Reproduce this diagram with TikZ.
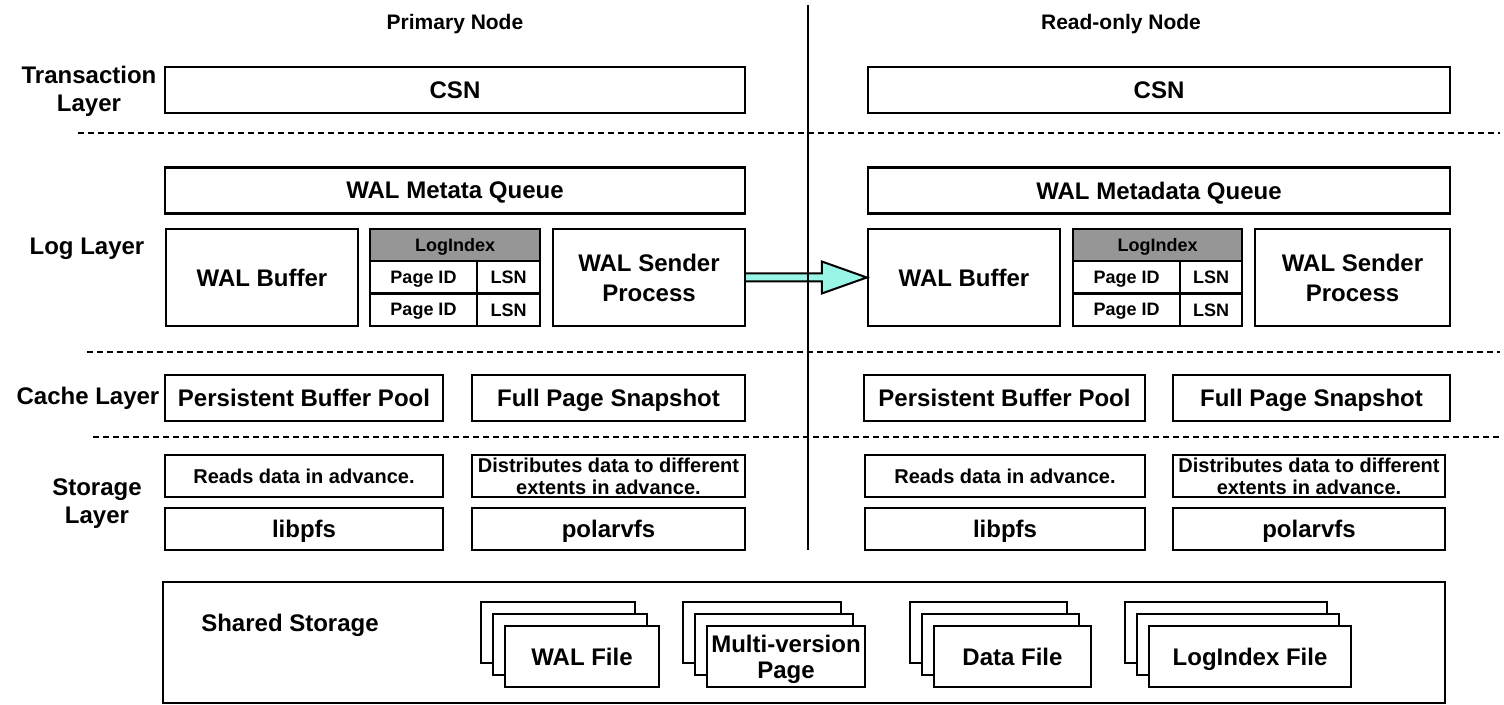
\documentclass[tikz,border=0pt]{standalone}
\usepackage{fontspec}
\setmainfont{Liberation Sans}
\usetikzlibrary{calc}
\definecolor{sendcyan}{RGB}{153,245,229}
\definecolor{idxgray}{RGB}{150,150,150}
\tikzset{
  box/.style 2 args={draw, line width=1.2pt, fill=white, inner sep=0pt,
    minimum width=#1*0.5pt, minimum height=#2*0.5pt, align=center, text depth=0pt,
    font=\fontsize{12}{15}\selectfont\bfseries},
  cellfont/.style={font=\fontsize{9}{10}\selectfont\bfseries},
  notefont/.style={font=\fontsize{10}{11}\selectfont\bfseries},
  layer/.style={align=center, text depth=0pt, font=\fontsize{12}{14}\selectfont\bfseries},
  head/.style={text depth=0pt, font=\fontsize{10.5}{12}\selectfont\bfseries},
  sep/.style={line width=1pt, dash pattern=on 3pt off 2pt},
}
\begin{document}
\begin{tikzpicture}[x=0.5pt,y=0.5pt]
\useasboundingbox (0,0) rectangle (1504,-705);
% headers and layer names
\node[head] (hdP) at (455,-22) {Primary Node};
\node[head] (hdR) at (1121,-22) {Read-only Node};
\node[layer] (lyTx) at (89,-89) {Transaction\\Layer};
\node[layer] (lyLog) at (87,-246) {Log Layer};
\node[layer] (lyCache) at (88,-396) {Cache Layer};
\node[layer] (lySto) at (97,-501) {Storage\\Layer};
% primary node
\node[box={580}{46}] (csnP) at (455,-90) {CSN};
\node[box={580}{46}] (walqP) at (455,-190.5) {WAL Metata Queue};
\node[box={192}{97}] (walbufP) at (262,-277.5) {WAL Buffer};
\node[box={170}{32}, fill=idxgray, cellfont] (idxP) at (455,-245) {LogIndex};
\node[box={107}{32.5}, cellfont] (pid1P) at (423.5,-277.25) {Page ID};
\node[box={63}{32.5}, cellfont] (lsn1P) at (508.5,-277.25) {LSN};
\node[box={107}{32.5}, cellfont] (pid2P) at (423.5,-309.75) {Page ID};
\node[box={63}{32.5}, cellfont] (lsn2P) at (508.5,-309.75) {LSN};
\node[box={192}{97}] (sendP) at (649,-277.5) {WAL Sender\\Process};
\node[box={278}{46}] (pbpP) at (304,-398) {Persistent Buffer Pool};
\node[box={273}{46}] (fpsP) at (608.5,-398) {Full Page Snapshot};
\node[box={278}{42}, notefont] (readP) at (304,-476) {Reads data in advance.};
\node[box={273}{42}, notefont] (distP) at (608.5,-476) {Distributes data to different\\extents in advance.};
\node[box={278}{42}] (libP) at (304,-529) {libpfs};
\node[box={273}{42}] (polP) at (608.5,-529) {polarvfs};
% read-only node
\node[box={582}{46}] (csnR) at (1159,-90) {CSN};
\node[box={582}{46}] (walqR) at (1159,-190.5) {WAL Metadata Queue};
\node[box={192}{97}] (walbufR) at (964,-277.5) {WAL Buffer};
\node[box={169}{32}, fill=idxgray, cellfont] (idxR) at (1157.5,-245) {LogIndex};
\node[box={107}{32.5}, cellfont] (pid1R) at (1126.5,-277.25) {Page ID};
\node[box={62}{32.5}, cellfont] (lsn1R) at (1211,-277.25) {LSN};
\node[box={107}{32.5}, cellfont] (pid2R) at (1126.5,-309.75) {Page ID};
\node[box={62}{32.5}, cellfont] (lsn2R) at (1211,-309.75) {LSN};
\node[box={195}{97}] (sendR) at (1352.5,-277.5) {WAL Sender\\Process};
\node[box={281}{46}] (pbpR) at (1004.5,-398) {Persistent Buffer Pool};
\node[box={277}{46}] (fpsR) at (1311.5,-398) {Full Page Snapshot};
\node[box={280}{42}, notefont] (readR) at (1005,-476) {Reads data in advance.};
\node[box={272}{42}, notefont] (distR) at (1309,-476) {Distributes data to different\\extents in advance.};
\node[box={280}{42}] (libR) at (1005,-529) {libpfs};
\node[box={272}{42}] (polR) at (1309,-529) {polarvfs};
% WAL shipped to the read-only node
\draw[line width=1pt, fill=sendcyan] ($(sendP.east)+(0,4)$) -- ($(walbufR.west)+(-45,4)$)
  -- ($(walbufR.west)+(-45,16)$) -- (walbufR.west) -- ($(walbufR.west)+(-45,-16)$)
  -- ($(walbufR.west)+(-45,-4)$) -- ($(sendP.east)+(0,-4)$);
% separators
\draw[line width=1pt] (808,-5) -- (808,-550);
\draw[sep] (78,-133) -- (1500,-133);
\draw[sep] (87,-352) -- (1500,-352);
\draw[sep] (93,-437) -- (1500,-437);
% shared storage
\node[box={1282}{121}] (shared) at (804,-642.5) {};
\node[layer] (sharedlbl) at (290,-623) {Shared Storage};
\node[box={154}{61}] (wal3) at (558,-632.5) {};
\node[box={154}{61}] (wal2) at (570,-644.5) {};
\node[box={154}{61}] (wal1) at (582,-656.5) {WAL File};
\node[box={158}{61}] (mvp3) at (762,-632.5) {};
\node[box={158}{61}] (mvp2) at (774,-644.5) {};
\node[box={158}{61}, font=\fontsize{12}{13}\selectfont\bfseries] (mvp1) at (786,-656.5) {Multi-version\\Page};
\node[box={157}{61}] (dat3) at (988.5,-632.5) {};
\node[box={157}{61}] (dat2) at (1000.5,-644.5) {};
\node[box={157}{61}] (dat1) at (1012.5,-656.5) {Data File};
\node[box={202}{61}] (lif3) at (1226,-632.5) {};
\node[box={202}{61}] (lif2) at (1238,-644.5) {};
\node[box={202}{61}] (lif1) at (1250,-656.5) {LogIndex File};
\end{tikzpicture}
\end{document}
